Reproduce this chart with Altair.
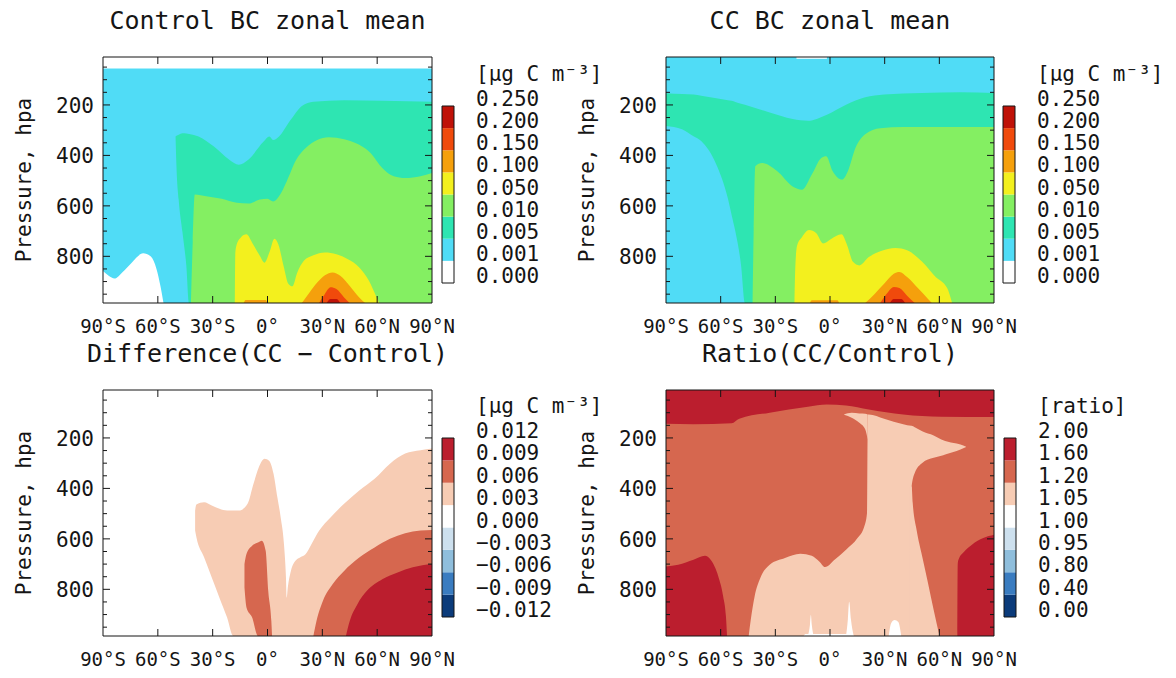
import altair as alt
import pandas as pd

FONT = "DejaVu Sans Mono"
INK = "#151515"

# ---------------- axes / text ----------------
LAT_RANGE = [-90, 90]
P_RANGE = [10, 985]
LAT_TICKS = [-90, -60, -30, 0, 30, 60, 90]
LAT_LABELS = ["90°S", "60°S", "30°S", "0°", "30°N", "60°N", "90°N"]
LAT_INNER = [-60, -30, 0, 30, 60]
P_MAJOR = [200, 400, 600, 800]
P_MINOR = [50, 100, 150, 250, 300, 350, 450, 500, 550, 650, 700, 750, 850, 900, 950]
Y_TITLE = "Pressure, hpa"

TITLES = ["Control BC zonal mean", "CC BC zonal mean",
          "Difference(CC − Control)", "Ratio(CC/Control)"]
UNITS = ["[μg C m⁻³]", "[μg C m⁻³]", "[μg C m⁻³]", "[ratio]"]
CB_CONC = ["0.000", "0.001", "0.005", "0.010", "0.050", "0.100", "0.150", "0.200", "0.250"]
CB_DIFF = ["−0.012", "−0.009", "−0.006", "−0.003", "0.000", "0.003", "0.006", "0.009", "0.012"]
CB_RATIO = ["0.00", "0.40", "0.80", "0.95", "1.00", "1.05", "1.20", "1.60", "2.00"]

PAL_CONC = ["#ffffff", "#50dcf6", "#2ee5b2", "#84ef62", "#f3f01e", "#f5a00c", "#f04a0c", "#bf1208"]
PAL_DIV = ["#0b3b7a", "#3a7cc0", "#8fbedc", "#cde0ee", "#ffffff", "#f7ccb4", "#d6674f", "#bb1e2e"]

# ---------------- contour regions: (lat, p_top[, p_bottom]) ----------------
# Control
CTRL_TOP_WHITE = [(-90, 10, 56), (90, 10, 56)]
CTRL_SW_WHITE = [(-90, 858), (-86.9, 877), (-83.7, 888), (-79.5, 864), (-74.3, 825), (-68.0, 788),
                 (-63.8, 801), (-60.7, 851), (-58.6, 917), (-56.9, 985)]
CTRL_TURQ = [(-50.3, 325, 327), (-49.8, 322, 444), (-48.6, 318, 575), (-46.5, 312, 706), (-44.4, 313, 838),
             (-42.9, 315, 985), (-37.7, 325), (-29.3, 365), (-20.9, 417), (-15.7, 437), (-10.5, 417),
             (-2.1, 345), (1.0, 325), (3.1, 339), (6.3, 325), (12.6, 260), (18.8, 204), (25.1, 187),
             (41.9, 181), (62.8, 183), (90, 187)]
CTRL_GREEN = [(-41.9, 984, 985), (-40.9, 741), (-39.8, 555), (-33.5, 562), (-25.1, 572), (-16.7, 588),
              (-10.5, 591), (-4.2, 575), (0.0, 572), (3.1, 583), (6.3, 562), (10.5, 503), (15.7, 417),
              (20.9, 371), (27.2, 339), (33.5, 328), (41.9, 336), (50.2, 358), (56.5, 391), (62.8, 450),
              (69.1, 483), (75.3, 490), (83.7, 483), (90, 470)]
CTRL_YELLOW = [(-17.9, 985), (-17.6, 785), (-16.8, 752), (-14.7, 726), (-11.5, 713), (-8.4, 746),
               (-4.2, 798), (-1.7, 825), (1.0, 785), (3.8, 730), (5.9, 752), (8.8, 838), (11.5, 910),
               (13.6, 919), (16.3, 864), (19.9, 818), (25.1, 796), (31.4, 785), (37.7, 792), (44.0, 812),
               (50.2, 844), (55.5, 897), (59.7, 963), (61.1, 985)]
CTRL_ORANGE = [(18.8, 985), (23.0, 943), (27.2, 904), (31.4, 875), (35.6, 864), (39.8, 877),
               (44.9, 917), (50.2, 963), (53.4, 985)]
CTRL_ORANGE_FOOT = [(-13.0, 985), (-12.0, 973), (-1.0, 973), (0.0, 985)]
CTRL_RED = [(28.2, 985), (31.4, 949), (34.5, 923), (37.7, 930), (41.9, 963), (44.9, 985)]
CTRL_DARK = [(32.4, 985), (34.5, 969), (37.7, 969), (39.8, 985)]

# Climate change
CC_TOP_WHITE = [(-18.4, 10, 17), (-1.7, 10, 17)]
CC_TURQ = [(-90, 154, 283), (-81.2, 157, 296), (-74.9, 159, 324), (-70.7, 164, 343), (-62.4, 173, 436),
           (-56.1, 181, 569), (-54.0, 183, 636), (-51.9, 188, 703), (-48.8, 195, 836), (-46.7, 199, 985),
           (-33.1, 230), (-20.5, 256), (-12.1, 263), (-1.7, 239), (8.8, 199), (19.3, 170), (29.7, 159),
           (50.6, 153), (71.6, 150), (90, 153)]
CC_GREEN = [(-42.5, 984, 985), (-41.9, 703), (-41.0, 443), (-37.3, 430), (-28.9, 463), (-20.5, 523),
            (-15.3, 536), (-10.0, 476), (-4.8, 410), (-2.1, 403), (1.5, 463), (6.7, 496), (9.8, 463),
            (14.0, 370), (19.3, 316), (27.6, 292), (40.2, 287), (90, 287)]
CC_YELLOW = [(-19.5, 985), (-19.0, 836), (-18.0, 756), (-15.3, 723), (-11.5, 696), (-7.5, 709),
             (-3.8, 749), (0.4, 732), (6.3, 713), (9.4, 756), (12.6, 822), (16.1, 836), (21.3, 803),
             (27.6, 780), (36.0, 767), (42.3, 776), (50.6, 822), (58.0, 882), (64.3, 926), (67.0, 985)]
CC_ORANGE = [(19.3, 985), (24.5, 949), (29.7, 909), (35.0, 869), (38.1, 862), (42.3, 882), (48.6, 929),
             (53.8, 969), (55.9, 985)]
CC_ORANGE_FOOT = [(-11.0, 985), (-10.0, 974), (4.0, 974), (5.0, 985)]
CC_RED = [(27.6, 985), (31.8, 942), (35.0, 922), (38.1, 926), (42.3, 956), (46.5, 985)]
CC_DARK = [(32.9, 985), (35.0, 969), (39.0, 969), (41.2, 985)]

# Difference
DIFF_PEACH = [(-39.6, 488, 567), (-38.9, 464, 594), (-34.7, 455, 673), (-30.5, 468, 753), (-26.3, 481, 833),
              (-22.1, 488, 912), (-18.8, 488, 985), (-15.7, 488), (-10.9, 461), (-7.9, 388), (-4.7, 315),
              (-1.6, 282), (1.0, 291), (3.3, 342), (5.4, 435), (7.2, 514), (9.0, 620), (10.1, 753),
              (10.5, 833), (11.1, 793), (12.8, 727), (15.3, 687), (18.0, 673), (20.9, 660), (24.1, 620),
              (28.3, 567), (34.6, 514), (41.9, 461), (50.2, 408), (58.6, 362), (67.0, 302), (75.3, 262),
              (83.7, 249), (90, 242)]
DIFF_MID_W = [(-12.6, 700, 793), (-11.5, 660, 872), (-8.4, 627, 912), (-5.2, 614, 985), (-3.1, 607, 985),
              (-1.0, 647, 985), (0.4, 806, 985), (2.1, 926, 985), (2.5, 984, 985)]
DIFF_MID_E = [(25.1, 985), (26.8, 926), (30.3, 846), (35.6, 780), (41.9, 727), (50.2, 674), (58.6, 634),
              (67.0, 600), (75.3, 578), (83.7, 567), (90, 565)]
DIFF_DARK = [(42.9, 985), (45.0, 926), (49.2, 859), (54.4, 806), (62.8, 760), (71.2, 733), (79.5, 713),
             (90, 700)]

# Ratio
RATIO_CAP = [(-90, 10, 144), (-74.9, 10, 146), (-54.0, 10, 142), (-49.8, 10, 124), (-33.1, 10, 100),
             (-12.1, 10, 76), (-1.7, 10, 67), (8.8, 10, 71), (21.3, 10, 87), (40.2, 10, 107),
             (61.1, 10, 116), (90, 10, 117)]
RATIO_SW = [(-90, 710), (-83.3, 703), (-74.9, 683), (-68.6, 667), (-65.5, 683), (-61.3, 749),
            (-58.6, 829), (-57.1, 908), (-56.5, 985)]
RATIO_SE = [(69.9, 984, 985), (70.1, 700), (70.5, 683), (73.7, 650), (77.9, 623), (84.1, 597), (90, 584)]
RATIO_PEACH = [(-44.6, 984, 985), (-43.5, 922), (-41.4, 829), (-38.3, 756), (-33.1, 703), (-24.7, 676),
               (-16.3, 659), (-10.0, 667), (-5.9, 690), (-2.7, 712), (2.5, 683), (8.8, 643), (15.1, 597),
               (18.8, 551), (20.3, 498), (20.6, 206), (20.8, 107), (21.3, 107), (29.7, 124), (40.2, 146),
               (44.6, 152, 985), (44.8, 152, 392), (46.5, 158, 339), (50.6, 173, 299), (56.9, 190, 279),
               (61.1, 206, 271), (63.2, 212, 266), (69.5, 222, 252), (71.6, 226, 246), (74.7, 235, 236)]
RATIO_TIP = [(7.7, 107, 108), (11.9, 100, 120), (16.1, 103, 140), (19.3, 104, 166), (20.7, 107, 206)]
RATIO_STEM_E = [(43.6, 392), (44.8, 392), (45.4, 458), (47.5, 564), (50.6, 670), (53.8, 776),
                (56.9, 882), (60.1, 985)]
RATIO_GAP_A = [(-12.1, 985), (-11.0, 940), (-10.5, 902), (-10.0, 940), (-9.0, 985)]
RATIO_GAP_B = [(8.8, 985), (9.8, 920), (10.5, 849), (11.5, 920), (13.0, 985)]
RATIO_GAP_C = [(32.2, 985), (33.5, 935), (35.5, 922), (37.5, 930), (39.1, 985)]
RATIO_FOOT = [(-14.5, 985), (-13.5, 977), (12.0, 977), (13.0, 985)]

PANELS = [
    dict(bg=1, pal=PAL_CONC, cb=CB_CONC, regions=[
        (0, CTRL_TOP_WHITE), (0, CTRL_SW_WHITE), (2, CTRL_TURQ), (3, CTRL_GREEN), (4, CTRL_YELLOW),
        (5, CTRL_ORANGE), (5, CTRL_ORANGE_FOOT), (6, CTRL_RED), (7, CTRL_DARK)]),
    dict(bg=1, pal=PAL_CONC, cb=CB_CONC, regions=[
        (0, CC_TOP_WHITE), (2, CC_TURQ), (3, CC_GREEN), (4, CC_YELLOW), (5, CC_ORANGE),
        (5, CC_ORANGE_FOOT), (6, CC_RED), (7, CC_DARK)]),
    dict(bg=4, pal=PAL_DIV, cb=CB_DIFF, regions=[
        (5, DIFF_PEACH), (6, DIFF_MID_W), (6, DIFF_MID_E), (7, DIFF_DARK)]),
    dict(bg=6, pal=PAL_DIV, cb=CB_RATIO, regions=[
        (7, RATIO_CAP), (7, RATIO_SW), (7, RATIO_SE), (5, RATIO_PEACH), (5, RATIO_TIP),
        (5, RATIO_STEM_E), (4, RATIO_GAP_A), (4, RATIO_GAP_B), (4, RATIO_GAP_C), (4, RATIO_FOOT)]),
]

# ---------------- layout (pixel placement of each panel) ----------------
LAYOUT = [
    {"px": [103, 432], "py": [57, 303], "cx": [442, 454], "cy": [283, 106]},
    {"px": [666, 994], "py": [57, 303], "cx": [1003, 1015], "cy": [283, 106]},
    {"px": [103, 432], "py": [390, 636], "cx": [442, 454], "cy": [617, 438]},
    {"px": [666, 994], "py": [390, 636], "cx": [1004, 1016], "cy": [617, 438]},
]


def region_df(verts, color):
    rows = []
    for v in verts:
        bot = v[2] if len(v) > 2 else P_RANGE[1]
        rows.append({"lat": v[0], "top": v[1], "bot": bot, "c": color})
    return pd.DataFrame(rows)


def build_panel(k, spec):
    L = LAYOUT[k]
    pal = spec["pal"]
    xs = alt.Scale(domain=LAT_RANGE, range=L["px"], nice=False, zero=False)
    ys = alt.Scale(domain=P_RANGE, range=L["py"], nice=False, zero=False)

    def ex(f):
        return alt.X(f"{f}:Q", scale=xs, axis=None)

    def ey(f):
        return alt.Y(f"{f}:Q", scale=ys, axis=None, stack=None)

    col = alt.Color("c:N", scale=None)
    layers = []
    box = pd.DataFrame([{"a": LAT_RANGE[0], "b": LAT_RANGE[1], "t": P_RANGE[0], "u": P_RANGE[1],
                         "c": pal[spec["bg"]]}])
    layers.append(alt.Chart(box).mark_rect().encode(x=ex("a"), x2="b", y=ey("t"), y2="u", color=col))
    for level, verts in spec["regions"]:
        df = region_df(verts, pal[level])
        layers.append(alt.Chart(df).mark_area(interpolate="monotone").encode(
            x=ex("lat"), y=ey("top"), y2="bot", color=col))
    # frame
    layers.append(alt.Chart(box).mark_rect(filled=False, color=INK, strokeWidth=1).encode(
        x=ex("a"), x2="b", y=ey("t"), y2="u"))
    # inward ticks
    for side, sgn in ((LAT_RANGE[0], 1), (LAT_RANGE[1], -1)):
        for vals, ln in ((P_MAJOR, 7), (P_MINOR, 4)):
            df = pd.DataFrame({"lat": side, "p": vals})
            layers.append(alt.Chart(df).mark_tick(orient="horizontal", size=ln, thickness=1,
                                                  xOffset=sgn * ln / 2, color=INK, opacity=1).encode(
                x=ex("lat"), y=ey("p")))
    for side, sgn in ((P_RANGE[0], 1), (P_RANGE[1], -1)):
        df = pd.DataFrame({"lat": LAT_INNER, "p": side})
        layers.append(alt.Chart(df).mark_tick(orient="vertical", size=7, thickness=1,
                                              yOffset=sgn * 3.5, color=INK, opacity=1).encode(
            x=ex("lat"), y=ey("p")))
    # tick labels
    xl = pd.DataFrame({"lat": LAT_TICKS, "p": P_RANGE[1], "s": LAT_LABELS})
    layers.append(alt.Chart(xl).mark_text(font=FONT, fontSize=19, color=INK, dy=24, baseline="middle",
                                          align="center").encode(x=ex("lat"), y=ey("p"), text="s:N"))
    yl = pd.DataFrame({"lat": LAT_RANGE[0], "p": P_MAJOR, "s": [str(v) for v in P_MAJOR]})
    layers.append(alt.Chart(yl).mark_text(font=FONT, fontSize=21, color=INK, dx=-9, dy=2, baseline="middle",
                                          align="right").encode(x=ex("lat"), y=ey("p"), text="s:N"))
    yt = pd.DataFrame({"lat": [LAT_RANGE[0]], "p": [sum(P_RANGE) / 2], "s": [Y_TITLE]})
    layers.append(alt.Chart(yt).mark_text(font=FONT, fontSize=21, color=INK, angle=270, dy=-78,
                                          baseline="middle", align="center").encode(
        x=ex("lat"), y=ey("p"), text="s:N"))
    tt = pd.DataFrame({"lat": [0], "p": [P_RANGE[0]], "s": [TITLES[k]]})
    layers.append(alt.Chart(tt).mark_text(font=FONT, fontSize=25, color=INK, dy=-36, baseline="middle",
                                          align="center").encode(x=ex("lat"), y=ey("p"), text="s:N"))
    # colour bar
    cxs = alt.Scale(domain=[0, 1], range=L["cx"], nice=False, zero=False)
    cys = alt.Scale(domain=[0, 8], range=L["cy"], nice=False, zero=False)
    cells = pd.DataFrame({"a": 0, "b": 1, "t": list(range(8)), "u": list(range(1, 9)), "c": pal})
    layers.append(alt.Chart(cells).mark_rect().encode(
        x=alt.X("a:Q", scale=cxs, axis=None), x2="b",
        y=alt.Y("t:Q", scale=cys, axis=None), y2="u", color=col))
    cbox = pd.DataFrame([{"a": 0, "b": 1, "t": 0, "u": 8}])
    layers.append(alt.Chart(cbox).mark_rect(filled=False, color=INK, strokeWidth=1).encode(
        x=alt.X("a:Q", scale=cxs, axis=None), x2="b",
        y=alt.Y("t:Q", scale=cys, axis=None), y2="u"))
    cl = pd.DataFrame({"a": 1, "pos": list(range(9)), "s": spec["cb"]})
    layers.append(alt.Chart(cl).mark_text(font=FONT, fontSize=21, color=INK, dx=22, dy=-6,
                                          baseline="middle", align="left").encode(
        x=alt.X("a:Q", scale=cxs, axis=None), y=alt.Y("pos:Q", scale=cys, axis=None), text="s:N"))
    un = pd.DataFrame({"a": [1], "pos": [8], "s": [UNITS[k]]})
    layers.append(alt.Chart(un).mark_text(font=FONT, fontSize=21, color=INK, dx=22, dy=-31,
                                          baseline="middle", align="left").encode(
        x=alt.X("a:Q", scale=cxs, axis=None), y=alt.Y("pos:Q", scale=cys, axis=None), text="s:N"))
    return layers


all_layers = []
for k, spec in enumerate(PANELS):
    all_layers += build_panel(k, spec)

chart = (
    alt.layer(*all_layers)
    .resolve_scale(x="independent", y="independent", color="independent")
    .properties(width=1176, height=678, padding=0,
                autosize=alt.AutoSizeParams(type="none"), background="white")
    .configure_view(strokeWidth=0)
)

chart.save("out.html", embed_options={"renderer": "svg", "actions": False})
